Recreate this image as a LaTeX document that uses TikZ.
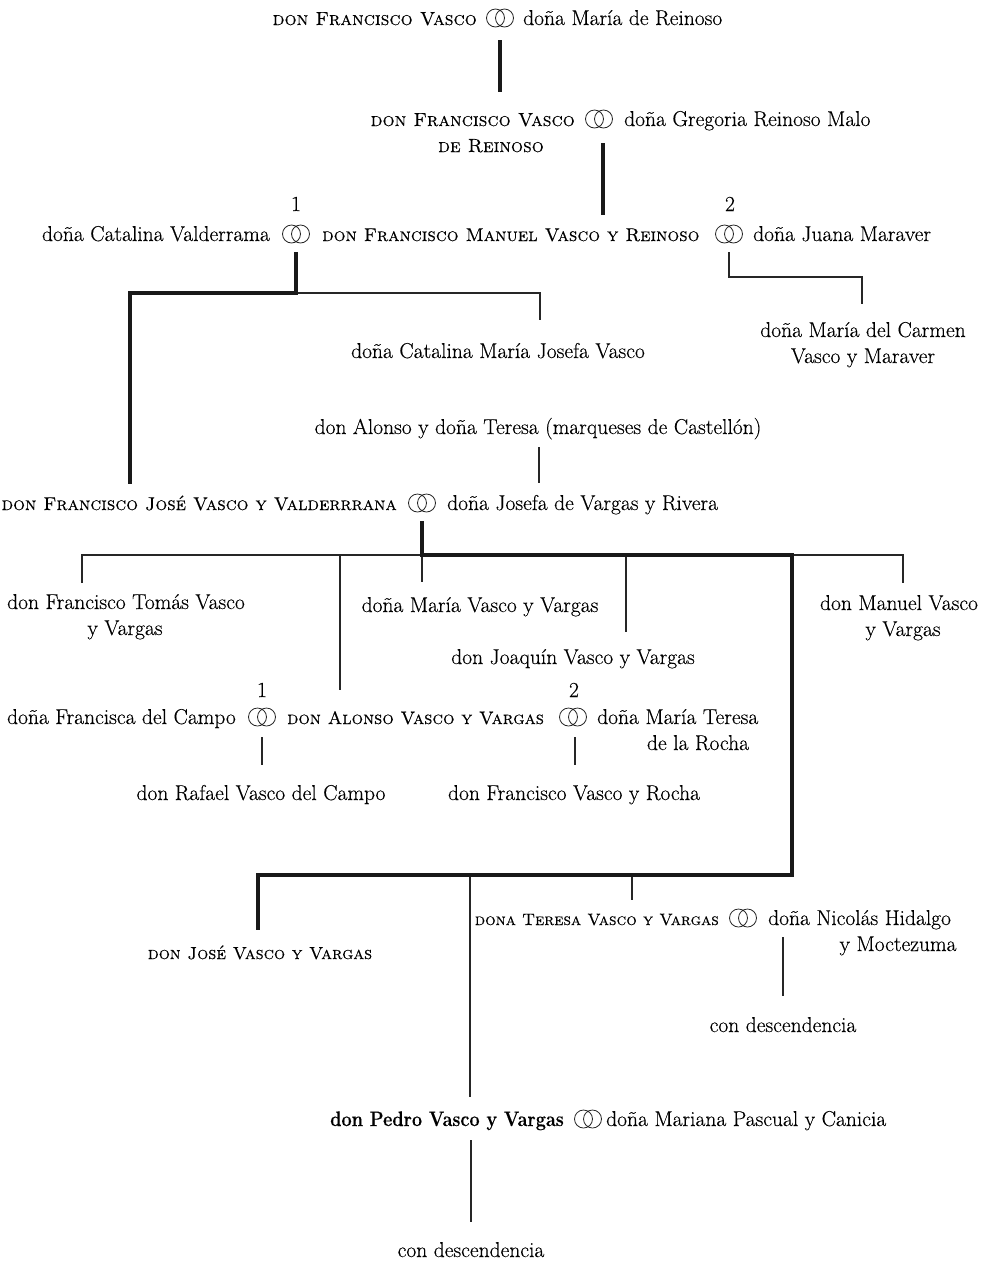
\documentclass[tikz,border=0pt]{standalone}
\usepackage{fontspec}
\setmainfont{lmroman17-regular.otf}[BoldFont=lmroman12-bold.otf, ItalicFont=lmroman12-italic.otf, SmallCapsFont=lmromancaps10-regular.otf, FakeBold=0.3]
\begin{document}
\begin{tikzpicture}[x=1pt,y=-1pt,
  txt/.style={inner sep=0pt, text=black, font=\fontsize{21.5}{24}\selectfont},
  sc/.style={inner sep=0pt, text=black, font=\fontsize{#1}{24}\selectfont\scshape},
  sc/.default=18.5,
  thn/.style={line width=1.2pt, black!85},
  thk/.style={line width=4pt, black!90},
  ringc/.style={line width=0.8pt, black!85},
  ringnode/.style={inner sep=0pt, minimum size=18pt}]
\useasboundingbox (0,0) rectangle (999,1262);
\newcommand{\drawrings}[1]{\draw[ringc] ([xshift=-4.5pt]#1.center) circle[radius=9pt] ([xshift=4.5pt]#1.center) circle[radius=9pt];}

% Row 1
\node[ringnode] (r1) at (500,18) {};
\drawrings{r1}
\node[sc=19, anchor=base east] (p1) at (477,25) {don Francisco Vasco};
\node[txt, anchor=base west] (w1) at (523,25) {doña María de Reinoso};

% Row 2
\node[ringnode] (r2) at (599,119) {};
\drawrings{r2}
\node[sc=19, anchor=base east] (p2) at (575,126) {don Francisco Vasco};
\node[sc=19, anchor=base] (p2b) at (491,152) {de Reinoso};
\node[txt, anchor=base west] (w2) at (624,126) {doña Gregoria Reinoso Malo};

% Row 3
\node[ringnode] (r3a) at (296,234) {};
\drawrings{r3a}
\node[ringnode] (r3b) at (729,234) {};
\drawrings{r3b}
\node[txt, anchor=base] (n3a) at (296,211) {1};
\node[txt, anchor=base] (n3b) at (730,211) {2};
\node[txt, anchor=base east] (w3a) at (270,241) {doña Catalina Valderrama};
\node[sc, anchor=base west] (p3) at (322,241) {don Francisco Manuel Vasco y Reinoso};
\node[txt, anchor=base west] (w3b) at (753,241) {doña Juana Maraver};

\node[txt, anchor=base] (c3a) at (498,358) {doña Catalina María Josefa Vasco};
\node[txt, anchor=base] (c3b) at (863,337) {doña María del Carmen};
\node[txt, anchor=base] (c3b2) at (863,363) {Vasco y Maraver};

\node[txt, anchor=base] (mq) at (538,434) {don Alonso y doña Teresa (marqueses de Castellón)};

% Row 4
\node[ringnode] (r4) at (422,503) {};
\drawrings{r4}
\node[sc, anchor=base east] (p4) at (397,510) {don Francisco José Vasco y Valderrrana};
\node[txt, anchor=base west] (w4) at (447,510) {doña Josefa de Vargas y Rivera};

% Children of row 4
\node[txt, anchor=base] (k1) at (126,609) {don Francisco Tomás Vasco};
\node[txt, anchor=base] (k1b) at (125,635) {y Vargas};
\node[txt, anchor=base] (k2) at (480,612) {doña María Vasco y Vargas};
\node[txt, anchor=base] (k3) at (573,664) {don Joaquín Vasco y Vargas};
\node[txt, anchor=base] (k4) at (899,610) {don Manuel Vasco};
\node[txt, anchor=base] (k4b) at (903,636) {y Vargas};

% Alonso row
\node[ringnode] (r5a) at (262,717) {};
\drawrings{r5a}
\node[ringnode] (r5b) at (573,717) {};
\drawrings{r5b}
\node[txt, anchor=base] (n5a) at (262,697) {1};
\node[txt, anchor=base] (n5b) at (574,697) {2};
\node[txt, anchor=base east] (w5a) at (236,724) {doña Francisca del Campo};
\node[sc=18, anchor=base west] (p5) at (287,724) {don Alonso Vasco y Vargas};
\node[txt, anchor=base west] (w5b) at (597,724) {doña María Teresa};
\node[txt, anchor=base] (w5b2) at (698,750) {de la Rocha};
\node[txt, anchor=base] (c5a) at (261,800) {don Rafael Vasco del Campo};
\node[txt, anchor=base] (c5b) at (574,800) {don Francisco Vasco y Rocha};

% Bottom
\node[sc=17.5, anchor=base] (jo) at (260,959) {don José Vasco y Vargas};
\node[ringnode] (r6) at (743,918) {};
\drawrings{r6}
\node[sc=16.5, anchor=base east] (te) at (719,925) {dona Teresa Vasco y Vargas};
\node[txt, anchor=base west] (ni) at (768,925) {doña Nicolás Hidalgo};
\node[txt, anchor=base] (ni2) at (898,951) {y Moctezuma};
\node[txt, anchor=base] (cd1) at (783,1032) {con descendencia};

\node[ringnode] (r7) at (588,1119) {};
\drawrings{r7}
\node[inner sep=0pt, text=black, font=\fontsize{21}{24}\selectfont\bfseries, anchor=base east] (pe) at (564,1126) {\scalebox{0.86}[1]{don Pedro Vasco y Vargas}};
\node[txt, anchor=base west] (ma) at (606,1126) {doña Mariana Pascual y Canicia};
\node[txt, anchor=base] (cd2) at (471,1257) {con descendencia};

% Junction coordinates
\coordinate (a1) at (500,40); \coordinate (a2) at (500,92);
\coordinate (b1) at (603,143); \coordinate (b2) at (603,215);
\coordinate (c1) at (296,252); \coordinate (c2) at (296,293);
\coordinate (c3) at (130,293); \coordinate (c4) at (130,484);
\coordinate (c5) at (540,293); \coordinate (c6) at (540,320);
\coordinate (d1) at (729,252); \coordinate (d2) at (729,277);
\coordinate (d3) at (862,277); \coordinate (d4) at (862,304);
\coordinate (e1) at (539,447); \coordinate (e2) at (539,483);
\coordinate (f1) at (422,521); \coordinate (f2) at (422,555);
\coordinate (f3) at (792,555); \coordinate (f4) at (792,875);
\coordinate (f5) at (258,875); \coordinate (f6) at (258,930);
\coordinate (g0) at (82,555); \coordinate (g1) at (82,583);
\coordinate (g2) at (903,555); \coordinate (g3) at (903,583);
\coordinate (h1) at (340,555); \coordinate (h2) at (340,690);
\coordinate (h3) at (422,582);
\coordinate (h4) at (626,555); \coordinate (h5) at (626,632);
\coordinate (i1) at (262,737); \coordinate (i2) at (262,765);
\coordinate (i3) at (575,737); \coordinate (i4) at (575,765);
\coordinate (j1) at (470,875); \coordinate (j2) at (470,1097);
\coordinate (j3) at (632,875); \coordinate (j4) at (632,900);
\coordinate (k5) at (783,937); \coordinate (k6) at (783,996);
\coordinate (l1) at (471,1140); \coordinate (l2) at (471,1222);

% thin connectors
\draw[thn] (c2) -- (c5) -- (c6);
\draw[thn] (d1) -- (d2) -- (d3) -- (d4);
\draw[thn] (e1) -- (e2);
\draw[thn] (g1) -- (g0) -- (g2) -- (g3);
\draw[thn] (h1) -- (h2);
\draw[thn] (f2) -- (h3);
\draw[thn] (h4) -- (h5);
\draw[thn] (i1) -- (i2);
\draw[thn] (i3) -- (i4);
\draw[thn] (j1) -- (j2);
\draw[thn] (j3) -- (j4);
\draw[thn] (k5) -- (k6);
\draw[thn] (l1) -- (l2);
% thick connectors
\draw[thk] (a1) -- (a2);
\draw[thk] (b1) -- (b2);
\draw[thk] (c1) -- (c2) -- (c3) -- (c4);
\draw[thk] (f1) -- (f2) -- (f3) -- (f4) -- (f5) -- (f6);
\end{tikzpicture}
\end{document}
